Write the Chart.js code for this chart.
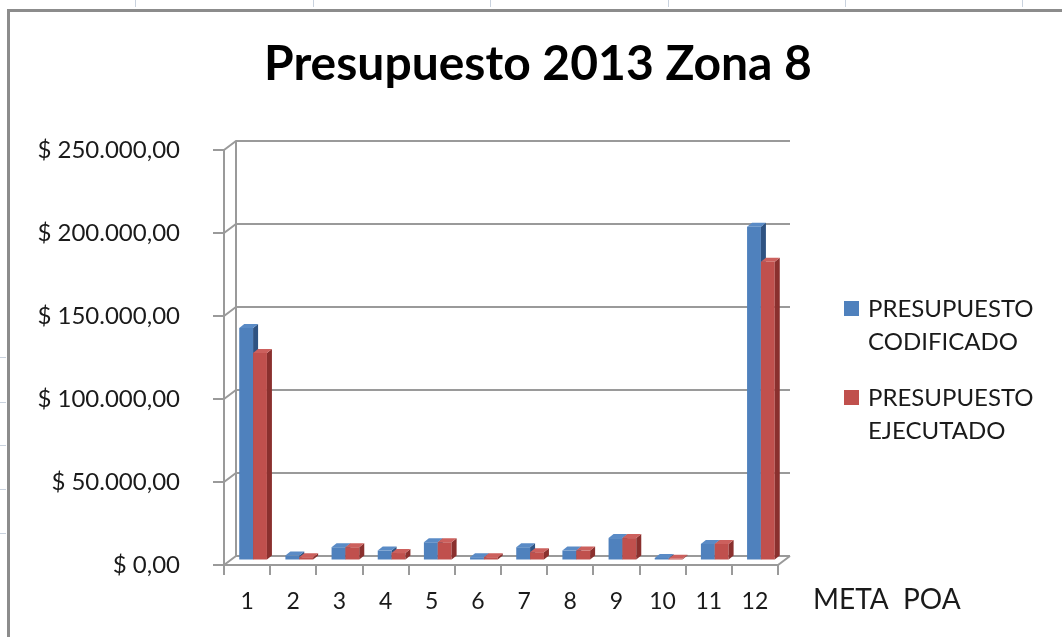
<!DOCTYPE html>
<html>
<head>
<meta charset="utf-8">
<title>Presupuesto 2013 Zona 8</title>
<script src="https://cdn.jsdelivr.net/npm/chart.js@4.4.0/dist/chart.umd.min.js"></script>
<style>
  html, body { margin: 0; padding: 0; background: #fff; }
  #wrap { position: relative; width: 1062px; height: 637px; overflow: hidden; }
  #wrap canvas { display: block; }
</style>
</head>
<body>
<div id="wrap"><canvas id="myChart" width="1062" height="637"></canvas></div>
<script>
// metas POA 1..12
var metas = ['1', '2', '3', '4', '5', '6', '7', '8', '9', '10', '11', '12'];
var codificado = [140000, 3000, 8000, 6000, 11000, 2000, 8000, 6000, 13500, 1500, 10000, 201000];
var ejecutado = [125000, 2000, 8000, 4500, 11000, 2000, 5000, 6000, 13500, 1000, 10000, 180000];
var yTicks = [0, 50000, 100000, 150000, 200000, 250000];

var FONT = 'Lato, "Open Sans", sans-serif';
var DX = 12, DY = 9;   // depth of the back wall / floor
var BD = 5, BE = 4;    // depth of each column

var colores = [
    { front: '#4f81bd', side: '#2f5382', top: '#5a8bc6' },
    { front: '#c0504d', side: '#8a302e', top: '#cc605d' }
];

function pesos(v) {
    var s = Math.round(v).toString().replace(/\B(?=(\d{3})+(?!\d))/g, '.');
    return '$ ' + s + ',00';
}

// walls, floor and the fake 3d columns
var tresD = {
    id: 'tresD',
    beforeDatasetsDraw: function(chart) {
        var ctx = chart.ctx, a = chart.chartArea, ys = chart.scales.y;
        ctx.save();
        ctx.strokeStyle = '#9a9a9a';
        ctx.lineWidth = 2;
        ys.ticks.forEach(function(t, i) {
            var py = ys.getPixelForTick(i);
            ctx.beginPath();
            ctx.moveTo(a.left, py);
            ctx.lineTo(a.left + DX, py - DY);
            ctx.lineTo(a.right + DX, py - DY);
            ctx.stroke();
        });
        // back wall left edge
        ctx.beginPath();
        ctx.moveTo(a.left + DX, a.top - DY);
        ctx.lineTo(a.left + DX, a.bottom - DY);
        ctx.stroke();
        // floor front edge
        ctx.beginPath();
        ctx.moveTo(a.left, a.bottom);
        ctx.lineTo(a.right, a.bottom);
        ctx.lineTo(a.right + DX, a.bottom - DY);
        ctx.stroke();
        ctx.restore();

        // columns sit in the middle of the floor depth
        ctx.save();
        ctx.translate(DX / 2, -DY / 2);
        for (var di = 0; di < chart.data.datasets.length; di++) {
            var meta = chart.getDatasetMeta(di);
            meta.controller.draw();
            var c = colores[di];
            meta.data.forEach(function(bar) {
                var p = bar.getProps(['x', 'y', 'base', 'width'], true);
                var l = p.x - p.width / 2, r = p.x + p.width / 2;
                ctx.fillStyle = c.side;
                ctx.beginPath();
                ctx.moveTo(r, p.y);
                ctx.lineTo(r + BD, p.y - BE);
                ctx.lineTo(r + BD, p.base - BE);
                ctx.lineTo(r, p.base);
                ctx.closePath();
                ctx.fill();
                ctx.fillStyle = c.top;
                ctx.beginPath();
                ctx.moveTo(l, p.y);
                ctx.lineTo(l + BD, p.y - BE);
                ctx.lineTo(r + BD, p.y - BE);
                ctx.lineTo(r, p.y);
                ctx.closePath();
                ctx.fill();
            });
        }
        ctx.restore();
        return false;
    },
    afterDraw: function(chart) {
        var ctx = chart.ctx;
        ctx.save();
        // sheet cell marks around the chart frame
        ctx.fillStyle = '#c9d2de';
        [135, 313, 490, 668, 845, 1022].forEach(function(x) {
            ctx.fillRect(x, 0, 1, 7);
        });
        [357, 402, 445, 489, 533].forEach(function(y) {
            ctx.fillRect(0, y, 6, 1);
        });
        // chart frame
        ctx.fillStyle = '#8c8c8c';
        ctx.fillRect(7, 9, 3, 628);
        ctx.fillRect(7, 9, 1055, 3);

        ctx.fillStyle = '#1a1a1a';
        ctx.textBaseline = 'middle';
        ctx.textAlign = 'left';
        // axis name
        ctx.font = '28px ' + FONT;
        ctx.fillText('META  POA', 813, 600);
        // legend
        ctx.font = '24px ' + FONT;
        var y0 = [309, 398];
        chart.data.datasets.forEach(function(ds, i) {
            ctx.fillStyle = ds.backgroundColor;
            ctx.fillRect(844, y0[i] - 8, 15, 15);
            ctx.fillStyle = '#1a1a1a';
            ds.label.split(' ').forEach(function(w, k) {
                ctx.fillText(w, 868, y0[i] + k * 33);
            });
        });
        ctx.restore();
    }
};

var ctx = document.getElementById('myChart').getContext('2d');
var myChart = new Chart(ctx, {
    type: 'bar',
    data: {
        labels: metas,
        datasets: [{
            label: 'PRESUPUESTO CODIFICADO',
            data: codificado,
            backgroundColor: colores[0].front,
            borderWidth: 0
        }, {
            label: 'PRESUPUESTO EJECUTADO',
            data: ejecutado,
            backgroundColor: colores[1].front,
            borderWidth: 0
        }]
    },
    options: {
        responsive: false,
        animation: false,
        layout: { padding: { left: 14, right: 0, top: 0, bottom: 0 } },
        plugins: {
            legend: { display: false },
            tooltip: { enabled: false },
            title: {
                display: true,
                text: 'Presupuesto 2013 Zona 8',
                color: '#000',
                font: { family: FONT, size: 48, weight: 'bold', lineHeight: 1.2 },
                padding: { top: 36, bottom: 56.4 }
            }
        },
        datasets: {
            bar: { categoryPercentage: 0.6, barPercentage: 1.0 }
        },
        scales: {
            x: {
                afterFit: function(s) { s.height = 72; },
                grid: {
                    display: true,
                    drawOnChartArea: false,
                    drawTicks: true,
                    tickLength: 10,
                    color: '#9a9a9a',
                    lineWidth: 2,
                    offset: true
                },
                border: { display: false },
                ticks: {
                    color: '#1a1a1a',
                    padding: 13,
                    maxRotation: 0,
                    font: { family: FONT, size: 23 }
                }
            },
            y: {
                min: 0,
                max: 250000,
                afterFit: function(s) { s.width = 210; },
                afterBuildTicks: function(s) {
                    s.ticks = yTicks.map(function(v) { return { value: v }; });
                },
                grid: {
                    display: true,
                    drawOnChartArea: false,
                    drawTicks: true,
                    tickLength: 11,
                    color: '#9a9a9a',
                    lineWidth: 2
                },
                border: { display: true, color: '#9a9a9a', width: 2 },
                ticks: {
                    color: '#1a1a1a',
                    padding: 33,
                    font: { family: FONT, size: 24 },
                    callback: function(v) { return pesos(v); }
                }
            },
            // empty column on the right that holds the legend
            leyenda: {
                type: 'linear',
                position: 'right',
                afterFit: function(s) { s.width = 284; },
                grid: { display: false },
                border: { display: false },
                ticks: { display: false }
            }
        }
    },
    plugins: [tresD]
});
</script>
</body>
</html>
